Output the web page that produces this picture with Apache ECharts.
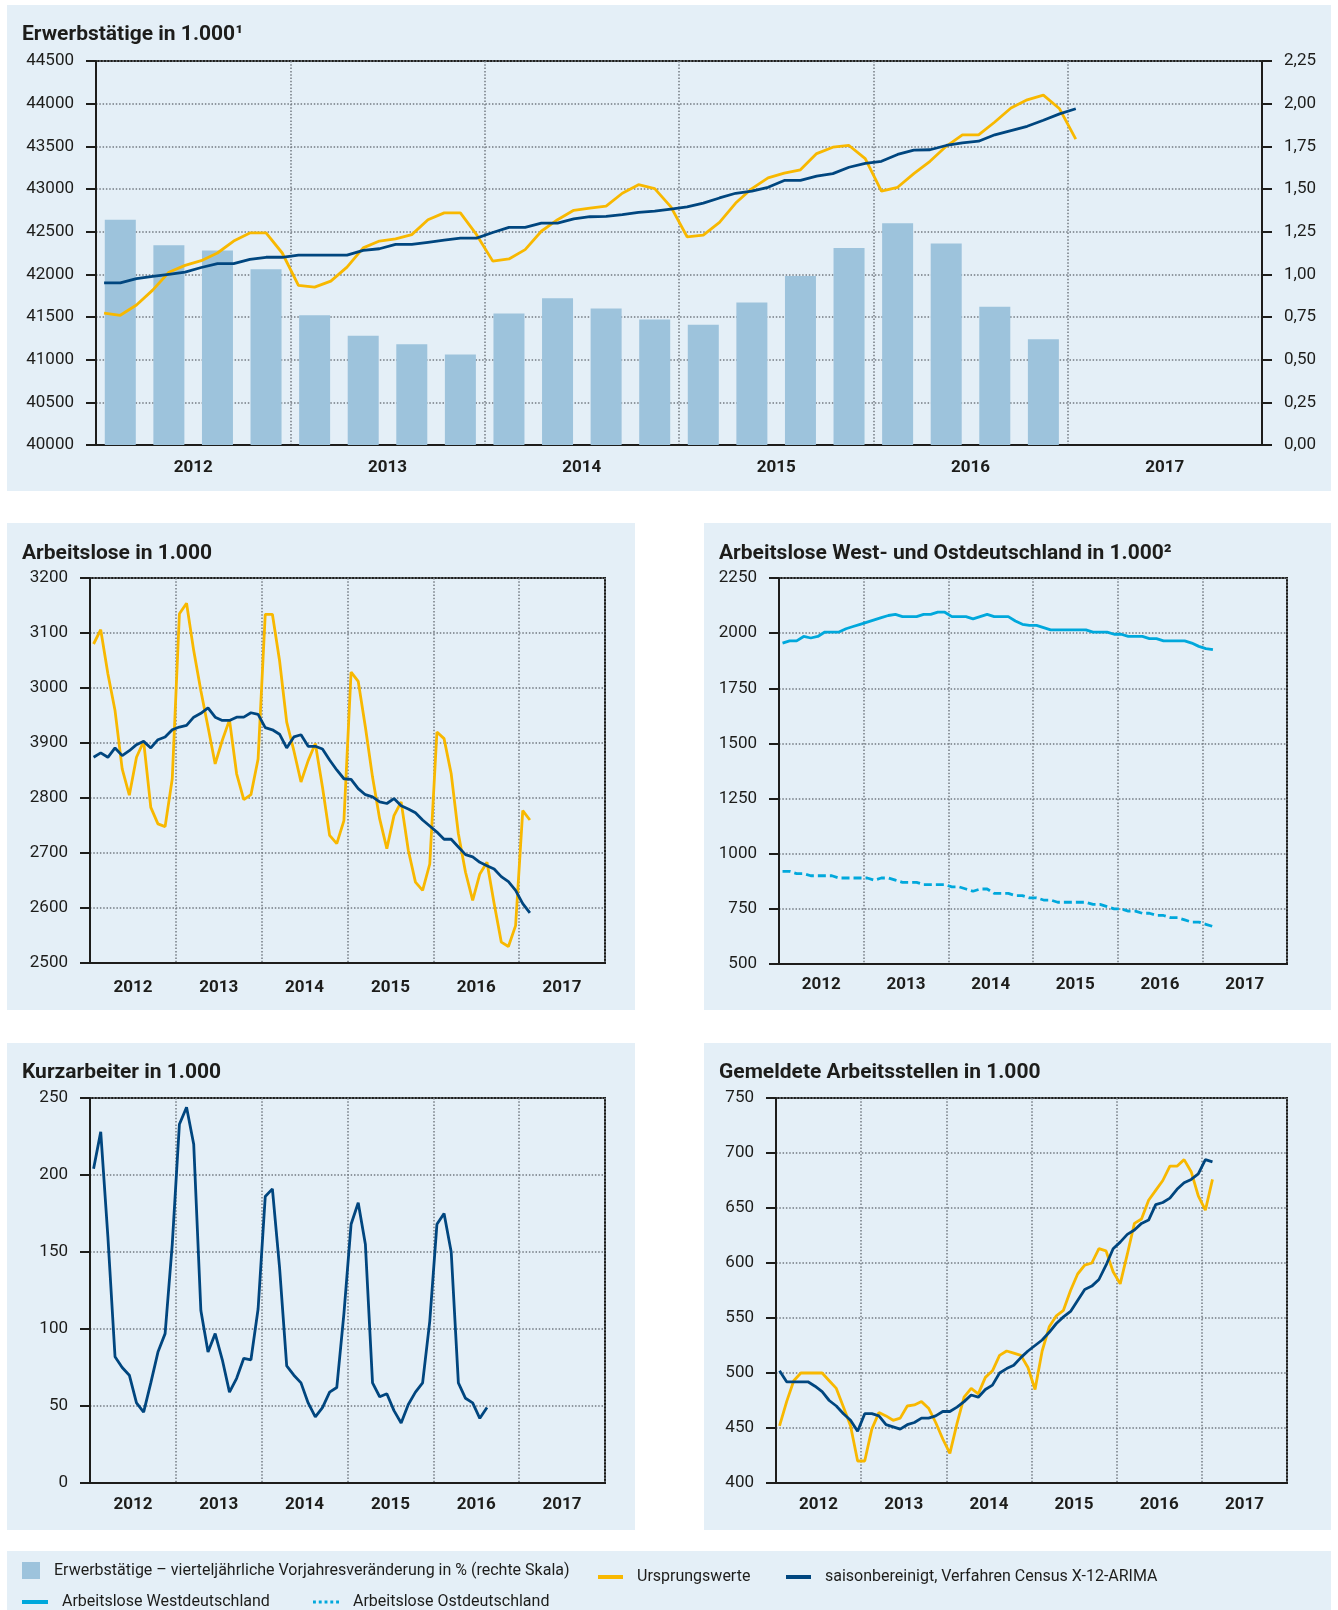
<!DOCTYPE html>
<html>
<head>
<meta charset="utf-8">
<script src="https://cdn.jsdelivr.net/npm/echarts@6/dist/echarts.min.js"></script>
<style>
  html, body { margin: 0; padding: 0; background: #fff; }
  #chart { width: 1338px; height: 1610px; }
</style>
</head>
<body>
<div id="chart"></div>
<script>
// Jahre und Monate (Jan 2012 bis Dez 2017)
const years = ['2012', '2013', '2014', '2015', '2016', '2017'];
const months = [];
years.forEach(y => {
  for (let m = 1; m <= 12; m++) months.push(y + '-' + (m < 10 ? '0' + m : m));
});

// Erwerbstätige in 1.000 (Jan 2012 - Jan 2017)
const erwUrsprung = [41545, 41520, 41640, 41815, 42025, 42105, 42160, 42250, 42390, 42485, 42485, 42250,
  41870, 41850, 41920, 42085, 42310, 42390, 42415, 42465, 42640, 42720, 42720, 42465,
  42155, 42180, 42290, 42505, 42640, 42750, 42775, 42800, 42950, 43050, 43005, 42790,
  42440, 42460, 42610, 42835, 43005, 43130, 43185, 43225, 43415, 43490, 43510, 43355,
  42975, 43020, 43180, 43325, 43500, 43635, 43635, 43785, 43950, 44045, 44100, 43940,
  43585];
const erwSaison = [41900, 41900, 41950, 41975, 42000, 42025, 42080, 42125, 42125, 42175, 42200, 42200,
  42225, 42225, 42225, 42225, 42280, 42300, 42350, 42350, 42375, 42400, 42425, 42425,
  42490, 42550, 42550, 42600, 42600, 42650, 42675, 42680, 42700, 42725, 42740, 42765,
  42790, 42835, 42895, 42950, 42975, 43020, 43100, 43100, 43150, 43180, 43255, 43300,
  43325, 43405, 43455, 43460, 43510, 43540, 43560, 43635, 43685, 43735, 43805, 43880,
  43940];
// vierteljährliche Vorjahresveränderung in % (Q1 2012 - Q4 2016)
const erwVeraenderung = [1.32, 1.17, 1.14, 1.03, 0.76, 0.64, 0.59, 0.53, 0.77, 0.86,
  0.80, 0.735, 0.705, 0.835, 0.99, 1.155, 1.30, 1.18, 0.81, 0.62];
const erwLeftTicks = ['40000', '40500', '41000', '41500', '42000', '42500', '43000', '43500', '44000', '44500'];
const erwRightTicks = ['0,00', '0,25', '0,50', '0,75', '1,00', '1,25', '1,50', '1,75', '2,00', '2,25'];

// Arbeitslose in 1.000 (Jan 2012 - Feb 2017)
const alUrsprung = [3080, 3106, 3026, 2959, 2853, 2805, 2874, 2903, 2783, 2753, 2748, 2835,
  3135, 3154, 3068, 2995, 2929, 2862, 2905, 2942, 2844, 2797, 2806, 2871,
  3134, 3134, 3050, 2938, 2886, 2829, 2868, 2899, 2820, 2732, 2717, 2759,
  3029, 3012, 2929, 2838, 2762, 2708, 2768, 2793, 2705, 2647, 2632, 2680,
  2920, 2908, 2844, 2735, 2665, 2614, 2662, 2683, 2608, 2538, 2530, 2568,
  2777, 2760];
const alSaison = [2874, 2882, 2874, 2891, 2877, 2886, 2897, 2903, 2891, 2906, 2911, 2924,
  2929, 2932, 2947, 2954, 2964, 2947, 2941, 2941, 2947, 2947, 2955, 2952,
  2928, 2924, 2916, 2891, 2911, 2915, 2894, 2894, 2889, 2869, 2851, 2835,
  2834, 2817, 2806, 2802, 2793, 2790, 2799, 2786, 2780, 2773, 2760, 2749,
  2738, 2725, 2725, 2711, 2697, 2693, 2683, 2677, 2671, 2657, 2648, 2632,
  2608, 2591];
const alTicks = ['2500', '2600', '2700', '2800', '3900', '3000', '3100', '3200'];

// Arbeitslose West- und Ostdeutschland in 1.000 (Jan 2012 - Feb 2017)
const alWest = [1955, 1965, 1965, 1985, 1978, 1985, 2005, 2005, 2005, 2020, 2030, 2040,
  2050, 2060, 2070, 2080, 2085, 2075, 2075, 2075, 2085, 2085, 2095, 2095,
  2075, 2075, 2075, 2065, 2075, 2085, 2075, 2075, 2075, 2055, 2040, 2035,
  2035, 2025, 2015, 2015, 2015, 2015, 2015, 2015, 2005, 2005, 2005, 1995,
  1995, 1985, 1985, 1985, 1975, 1975, 1965, 1965, 1965, 1965, 1955, 1940,
  1930, 1925];
const alOst = [920, 920, 910, 910, 900, 900, 900, 900, 890, 890, 890, 890,
  890, 880, 890, 890, 880, 870, 870, 870, 860, 860, 860, 860,
  850, 850, 840, 830, 840, 840, 820, 820, 820, 810, 810, 800,
  800, 790, 790, 780, 780, 780, 780, 780, 770, 770, 760, 750,
  750, 740, 740, 730, 730, 720, 720, 710, 710, 700, 690, 690,
  680, 670];
const woTicks = ['500', '750', '1000', '1250', '1500', '1750', '2000', '2250'];

// Kurzarbeiter in 1.000 (Jan 2012 - Aug 2016)
const kurzarbeiter = [204, 228, 160, 82, 75, 70, 52, 46, 65, 85, 97, 155,
  233, 244, 220, 112, 85, 97, 80, 59, 68, 81, 80, 113,
  186, 191, 140, 76, 70, 65, 52, 43, 49, 59, 62, 110,
  168, 182, 155, 65, 56, 58, 47, 39, 51, 59, 65, 105,
  168, 175, 150, 65, 55, 52, 42, 49];
const kaTicks = ['0', '50', '100', '150', '200', '250'];

// Gemeldete Arbeitsstellen in 1.000 (Jan 2012 - Feb 2017)
const gaUrsprung = [452, 474, 493, 500, 500, 500, 500, 493, 486, 469, 452, 420,
  420, 449, 464, 461, 457, 459, 470, 471, 474, 468, 455, 440,
  427, 454, 478, 486, 481, 496, 502, 516, 520, 518, 516, 505,
  485, 520, 542, 552, 557, 575, 590, 598, 600, 613, 611, 592,
  581, 608, 636, 640, 657, 666, 675, 688, 688, 694, 683, 661,
  648, 676];
const gaSaison = [502, 492, 492, 492, 492, 488, 483, 475, 470, 463, 457, 447,
  463, 463, 461, 453, 451, 449, 453, 455, 459, 459, 461, 465,
  465, 469, 474, 480, 478, 485, 489, 500, 504, 507, 514, 520,
  525, 530, 537, 545, 551, 556, 566, 576, 579, 585, 598, 613,
  619, 626, 630, 636, 639, 653, 655, 659, 667, 673, 676, 681,
  694, 692];
const gaTicks = ['400', '450', '500', '550', '600', '650', '700', '750'];

// Legendentexte
const nameBar = 'Erwerbstätige – vierteljährliche Vorjahresveränderung in % (rechte Skala)';
const nameUrsprung = 'Ursprungswerte';
const nameSaison = 'saisonbereinigt, Verfahren Census X-12-ARIMA';
const nameWest = 'Arbeitslose Westdeutschland';
const nameOst = 'Arbeitslose Ostdeutschland';

const FONT = 'Roboto, "Noto Sans", sans-serif';
const INK = '#1d1d1b';
const C_BG = '#e4eff7';
const C_BAR = '#9dc3dc';
const C_ORANGE = '#f8b800';
const C_BLUE = '#00467f';
const C_CYAN = '#00a8dc';
const C_GRID = '#737b82';
const GRID_LINE = { color: C_GRID, type: [1.5, 1.8], width: 1.5 };

// Quartalswerte in der Quartalsmitte eintragen
const erwBars = months.map((m, i) => {
  const q = (i - 1) / 3;
  return (i % 3 === 1 && q < erwVeraenderung.length) ? erwVeraenderung[q] : null;
});

const grids = [
  { left: 96, top: 61, width: 1166, height: 384 },
  { left: 90, top: 578, width: 515, height: 385 },
  { left: 779, top: 578, width: 508, height: 386 },
  { left: 90, top: 1098, width: 515, height: 385 },
  { left: 776, top: 1098, width: 511, height: 385 }
].map(g => Object.assign(g, { show: true, borderColor: INK, borderWidth: 2, backgroundColor: 'transparent' }));
const yearMargins = [14, 16, 12, 13, 13];

function monthAxis(g) {
  return {
    type: 'category', gridIndex: g, data: months, boundaryGap: true, position: 'bottom',
    axisLine: { show: true, lineStyle: { color: INK, width: 2 } },
    axisTick: { show: false }, axisLabel: { show: false }, splitLine: { show: false }
  };
}

function yearAxis(g, margin) {
  return {
    type: 'category', gridIndex: g, data: years, boundaryGap: true, position: 'bottom',
    axisLine: { show: false }, axisTick: { show: false },
    axisLabel: { color: INK, fontFamily: FONT, fontWeight: 'bold', fontSize: 17, margin: margin },
    splitLine: { show: true, lineStyle: GRID_LINE }
  };
}

function valueAxis(g, min, max, interval, labels, position, grid) {
  return {
    type: 'value', gridIndex: g, min: min, max: max, interval: interval, position: position,
    axisLine: { show: true, lineStyle: { color: INK, width: 2 } },
    axisTick: { show: true, length: 10, lineStyle: { color: INK, width: 2 } },
    axisLabel: {
      color: INK, fontFamily: FONT, fontSize: 17, margin: 22,
      formatter: v => labels[Math.round((v - min) / interval)]
    },
    splitLine: { show: grid, lineStyle: GRID_LINE }
  };
}

const xAxes = [];
grids.forEach((g, i) => {
  xAxes.push(monthAxis(i));
  xAxes.push(yearAxis(i, yearMargins[i]));
});

const yAxes = [
  valueAxis(0, 40000, 44500, 500, erwLeftTicks, 'left', true),
  valueAxis(0, 0, 2.25, 0.25, erwRightTicks, 'right', false),
  valueAxis(1, 2500, 3200, 100, alTicks, 'left', true),
  valueAxis(2, 500, 2250, 250, woTicks, 'left', true),
  valueAxis(3, 0, 250, 50, kaTicks, 'left', true),
  valueAxis(4, 400, 750, 50, gaTicks, 'left', true)
];

function line(name, data, xi, yi, color, dashed) {
  return {
    name: name, type: 'line', data: data, xAxisIndex: xi, yAxisIndex: yi,
    showSymbol: false, symbol: 'none', animation: false, z: 3,
    itemStyle: { color: color },
    lineStyle: { color: color, width: 2.8, type: dashed ? [8, 4] : 'solid' }
  };
}

const series = [
  {
    name: nameBar, type: 'bar', data: erwBars, xAxisIndex: 0, yAxisIndex: 1,
    barWidth: 31, itemStyle: { color: C_BAR }, animation: false, z: 2
  },
  line(nameUrsprung, erwUrsprung, 0, 0, C_ORANGE),
  line(nameSaison, erwSaison, 0, 0, C_BLUE),
  line(nameUrsprung, alUrsprung, 2, 2, C_ORANGE),
  line(nameSaison, alSaison, 2, 2, C_BLUE),
  line(nameWest, alWest, 4, 3, C_CYAN),
  line(nameOst, alOst, 4, 3, C_CYAN, true),
  line(nameSaison, kurzarbeiter, 6, 4, C_BLUE),
  line(nameUrsprung, gaUrsprung, 8, 5, C_ORANGE),
  line(nameSaison, gaSaison, 8, 5, C_BLUE)
];

function title(text, left, top) {
  return {
    text: text, left: left, top: top, padding: 0,
    textStyle: { color: INK, fontFamily: FONT, fontWeight: 'bold', fontSize: 21 }
  };
}

function legendItem(name, left, top, icon, w, h) {
  return {
    data: [{ name: name, icon: icon }], left: left, top: top, padding: 0,
    itemWidth: w, itemHeight: h, selectedMode: false,
    textStyle: { color: INK, fontFamily: FONT, fontSize: 16, padding: [0, 0, 0, 9] }
  };
}

const dotIcon = 'path://M0,0h3v3h-3z M6,0h3v3h-3z M12,0h3v3h-3z M18,0h3v3h-3z M24,0h3v3h-3z';

const panels = [
  [7, 5, 1324, 486],
  [7, 523, 628, 487],
  [704, 523, 627, 487],
  [7, 1043, 628, 487],
  [704, 1043, 627, 487],
  [7, 1551, 1324, 59]
];

const chart = echarts.init(document.getElementById('chart'), null, { renderer: 'canvas' });
chart.setOption({
  animation: false,
  backgroundColor: '#ffffff',
  graphic: panels.map(p => ({
    type: 'rect', z: -10, silent: true,
    shape: { x: p[0], y: p[1], width: p[2], height: p[3] },
    style: { fill: C_BG }
  })),
  title: [
    title('Erwerbstätige in 1.000¹', 22, 24),
    title('Arbeitslose in 1.000', 22, 543),
    title('Arbeitslose West- und Ostdeutschland in 1.000²', 719, 543),
    title('Kurzarbeiter in 1.000', 22, 1062),
    title('Gemeldete Arbeitsstellen in 1.000', 719, 1062)
  ],
  legend: [
    legendItem(nameBar, 22, 1562, 'rect', 18, 17),
    legendItem(nameUrsprung, 598, 1569, 'rect', 25, 4),
    legendItem(nameSaison, 786, 1569, 'rect', 25, 4),
    legendItem(nameWest, 22, 1594, 'rect', 26, 4),
    legendItem(nameOst, 313, 1594, dotIcon, 26, 3)
  ],
  grid: grids,
  xAxis: xAxes,
  yAxis: yAxes,
  series: series
});
</script>
</body>
</html>
